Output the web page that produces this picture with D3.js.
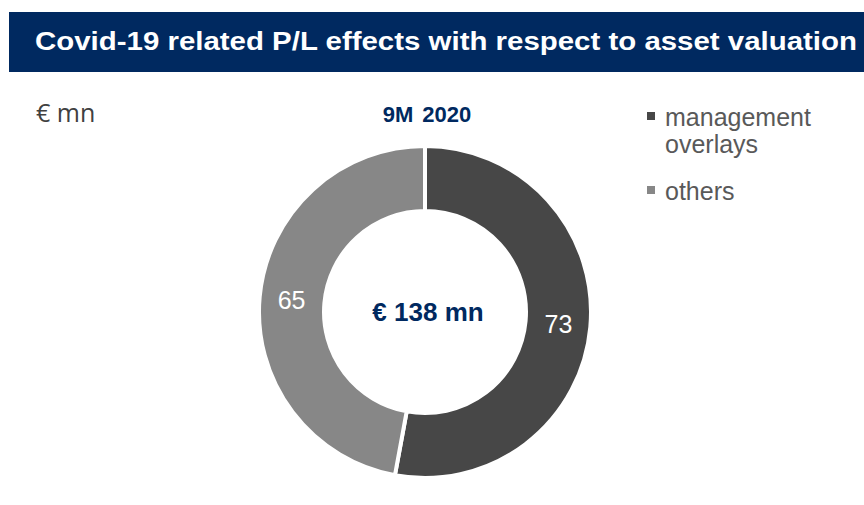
<!DOCTYPE html>
<html>
<head>
<meta charset="utf-8">
<script src="https://cdn.jsdelivr.net/npm/d3@7"></script>
<style>
  body { margin: 0; background: #fff; }
  svg { font-family: "Liberation Sans", Arial, sans-serif; }
</style>
</head>
<body>
<svg id="chart" width="864" height="505"></svg>
<script>
// data
var categories = ["management overlays", "others"];
var values = [73, 65];
var colors = ["#474747", "#878787"];
var period = "9M 2020";
var total = "€ 138 mn";

var svg = d3.select("#chart"),
  width = 864,
  height = 505;

// title banner
svg.append("rect")
  .attr("x", 9).attr("y", 12)
  .attr("width", width - 9).attr("height", 60)
  .attr("fill", "#002960");

svg.append("text")
  .attr("x", 35).attr("y", 50)
  .attr("fill", "#fff")
  .attr("font-size", 26)
  .attr("font-weight", "bold")
  .attr("textLength", 822)
  .attr("lengthAdjust", "spacingAndGlyphs")
  .text("Covid-19 related P/L effects with respect to asset valuation");

svg.append("text")
  .attr("x", 36).attr("y", 122)
  .attr("fill", "#404040")
  .attr("font-family", "'Open Sans', sans-serif")
  .attr("font-size", 25)
  .text("€ mn");

svg.append("text")
  .attr("x", 427).attr("y", 122)
  .attr("text-anchor", "middle")
  .attr("fill", "#002960")
  .attr("font-size", 22)
  .attr("font-weight", "bold")
  .attr("word-spacing", 3)
  .text(period);

// donut
var cx = 425, cy = 312, outerR = 166, innerR = 101;

var pie = d3.pie().sort(null).value(function(d) { return d; });
var arc = d3.arc().innerRadius(innerR).outerRadius(outerR);
var labelArc = d3.arc().innerRadius(134).outerRadius(134);

var g = svg.append("g").attr("transform", "translate(" + cx + "," + cy + ")");
var arcs = pie(values);

g.selectAll("path")
  .data(arcs)
  .enter().append("path")
  .attr("d", arc)
  .attr("fill", function(d, i) { return colors[i]; })
  .attr("stroke", "#fff")
  .attr("stroke-width", 4);

g.selectAll("text.val")
  .data(arcs)
  .enter().append("text")
  .attr("class", "val")
  .attr("transform", function(d) { return "translate(" + labelArc.centroid(d) + ")"; })
  .attr("dy", "0.36em")
  .attr("text-anchor", "middle")
  .attr("fill", "#fff")
  .attr("font-size", 25)
  .text(function(d) { return d.data; });

g.append("text")
  .attr("x", 3)
  .attr("dy", "0.36em")
  .attr("text-anchor", "middle")
  .attr("fill", "#002960")
  .attr("font-size", 26)
  .attr("font-weight", "bold")
  .text(total);

// legend
var legendLines = [["management", "overlays"], ["others"]];
var legendY = [126, 200];
legendLines.forEach(function(lines, i) {
  svg.append("rect")
    .attr("x", 647).attr("y", legendY[i] - 14)
    .attr("width", 8).attr("height", 8)
    .attr("fill", colors[i]);
  svg.append("text")
    .attr("x", 665).attr("y", legendY[i])
    .attr("fill", "#595959")
    .attr("font-size", 25)
    .selectAll("tspan")
    .data(lines)
    .enter().append("tspan")
    .attr("x", 665)
    .attr("dy", function(d, j) { return j === 0 ? 0 : 27; })
    .text(function(d) { return d; });
});
</script>
</body>
</html>
